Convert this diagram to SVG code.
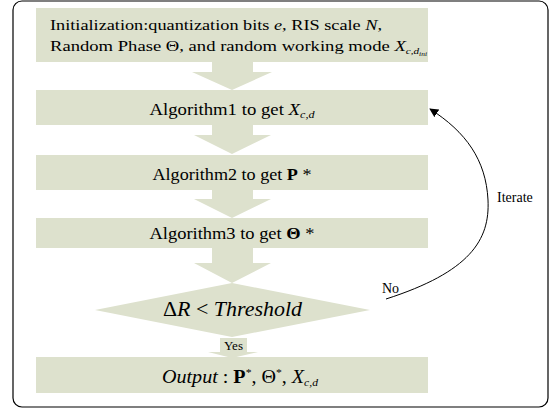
<svg xmlns="http://www.w3.org/2000/svg" width="556" height="409" viewBox="0 0 556 409">
<defs>
<style>
.box{fill:#DDE1CD;stroke:none}
.t{font-family:"Liberation Serif","Times New Roman",serif;fill:#000}
.it{font-style:italic}
.b{font-weight:bold}
.conn{fill:none;stroke:#000;stroke-width:1}
</style>
<marker id="ah" viewBox="0 0 10 10" refX="9" refY="5" markerWidth="9" markerHeight="9" markerUnits="userSpaceOnUse" orient="auto">
<path d="M0,0 L10,5 L0,10 Z" fill="#000"/>
</marker>
</defs>
<rect x="13" y="1" width="535" height="406" rx="9" ry="9" fill="#fff" stroke="#000" stroke-width="1.2"/>

<g id="flow-arrows">
<polygon class="box" points="212,62 253,62 253,72 272,72 232,90 192,72 212,72"/>
<polygon class="box" points="212,125 253,125 253,135 271,135 232,154 194,135 212,135"/>
<polygon class="box" points="212,190 253,190 253,199 271,199 232,218 194,199 212,199"/>
<polygon class="box" points="212,248 253,248 253,263 271,263 232,283 194,263 212,263"/>
<polygon class="box" points="208,352 258,352 232,358"/>
</g>

<g id="init">
<rect class="box" x="36" y="8" width="392" height="54"/>
<text class="t" x="50" y="30" font-size="15" textLength="332" lengthAdjust="spacingAndGlyphs">Initialization:quantization bits <tspan class="it">e</tspan>, RIS scale <tspan class="it">N</tspan>,</text>
<text class="t" x="50" y="51" font-size="15" textLength="377" lengthAdjust="spacingAndGlyphs">Random Phase Θ, and random working mode <tspan class="it">X</tspan><tspan class="it" font-size="9" dy="3">c,d</tspan><tspan class="it" font-size="6" dy="2">ini</tspan></text>
</g>

<g id="alg1">
<rect class="box" x="36" y="90" width="392" height="35"/>
<text class="t" x="232" y="115" font-size="17" text-anchor="middle" textLength="165" lengthAdjust="spacingAndGlyphs">Algorithm1 to get <tspan class="it">X</tspan><tspan class="it" font-size="11" dy="3">c,d</tspan></text>
</g>

<g id="alg2">
<rect class="box" x="36" y="155" width="392" height="35"/>
<text class="t" x="232" y="180" font-size="17" text-anchor="middle" textLength="159" lengthAdjust="spacingAndGlyphs">Algorithm2 to get <tspan class="b">P</tspan> *</text>
</g>

<g id="alg3">
<rect class="box" x="36" y="218" width="392" height="30"/>
<text class="t" x="232" y="239" font-size="17" text-anchor="middle" textLength="165" lengthAdjust="spacingAndGlyphs">Algorithm3 to get <tspan class="b">Θ</tspan> *</text>
</g>

<g id="decision">
<polygon class="box" points="232,283 370,310 232,337 95,310"/>
<text class="t" x="232.5" y="316" font-size="20" text-anchor="middle" textLength="139" lengthAdjust="spacingAndGlyphs">Δ<tspan class="it">R</tspan> &lt; <tspan class="it">Threshold</tspan></text>
</g>

<g id="yes-label">
<rect class="box" x="220" y="338" width="27" height="14"/>
<text class="t" x="233.5" y="349.5" font-size="13" text-anchor="middle">Yes</text>
</g>

<g id="output">
<rect class="box" x="36" y="357" width="392" height="36"/>
<text class="t" x="240" y="383" font-size="19" text-anchor="middle" textLength="156" lengthAdjust="spacingAndGlyphs"><tspan class="it">Output</tspan> : <tspan class="b">P</tspan><tspan font-size="11" dy="-7">*</tspan><tspan dy="7">, Θ</tspan><tspan font-size="11" dy="-7">*</tspan><tspan dy="7">, </tspan><tspan class="it">X</tspan><tspan class="it" font-size="11" dy="3">c,d</tspan></text>
</g>

<g id="connectors">
<path class="conn" d="M386,299 C470,272 490,240 488,200 C486,160 466,132 430,109" marker-end="url(#ah)"/>
<text class="t" x="382" y="293" font-size="14">No</text>
<text class="t" x="497" y="202" font-size="14">Iterate</text>
</g>
</svg>
